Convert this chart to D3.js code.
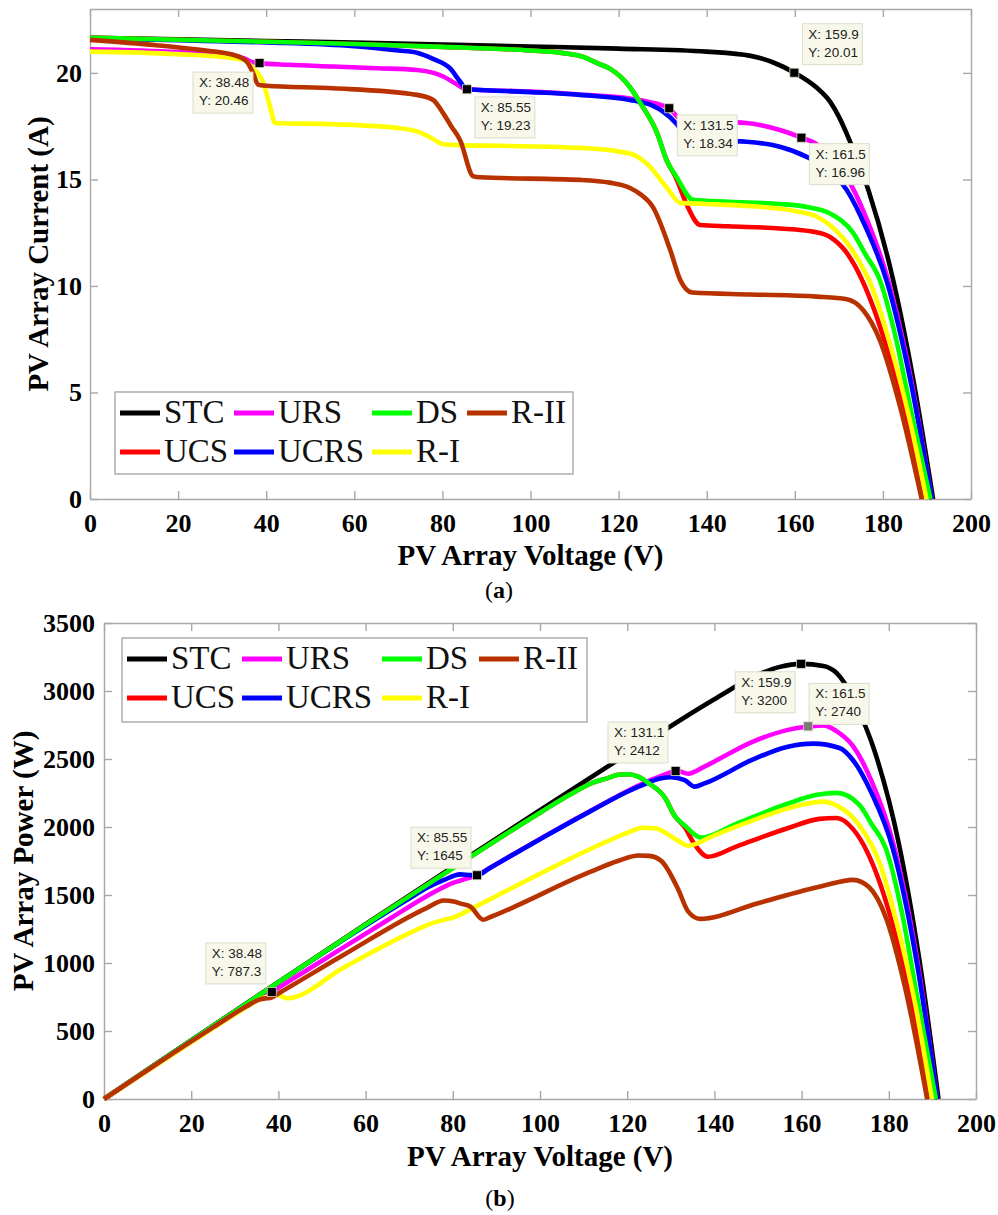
<!DOCTYPE html>
<html><head><meta charset="utf-8">
<script src="https://cdn.jsdelivr.net/npm/d3@7"></script>
<style>body{margin:0;background:#fff}</style>
</head><body>
<svg id="c" width="998" height="1215" xmlns="http://www.w3.org/2000/svg"></svg>
<script>
// ---------- DATA ----------
const seriesNames = ["STC","UCS","URS","UCRS","DS","R-I","R-II"];

const vSTC = [0,20,40,60,80,100,120,140,150,155,159.9,165,168,170,172.5,176.7,182.3,186.9,191.4];
const iSTC = [21.65,21.58,21.50,21.42,21.33,21.24,21.14,21.00,20.80,20.50,20.01,19.30,18.65,17.95,16.80,14.50,10.30,5.60,0];
const pSTC = [0,431.6,860,1285.2,1706.4,2124,2536.8,2940,3120,3177.5,3199.6,3184.5,3133.2,3051.5,2898,2562.2,1877.7,1046.6,0];

const vUCS = [0,20,40,60,80,100,107,112,115,118,120.3,122.5,124.9,128.7,130.9,133.2,135.5,138.5,145,156.6,164.1,168,171.8,175,178,182,185.5,189.3];
const iUCS = [21.65,21.56,21.46,21.36,21.22,21.05,20.94,20.75,20.47,20.2,19.85,19.35,18.6,17.2,15.9,15.0,13.8,12.86,12.8,12.7,12.55,12.3,11.55,10.4,8.9,6.3,3.6,0];
const pUCS = [0,431.2,858.4,1281.6,1697.6,2105,2240.6,2324,2354.1,2383.6,2388,2370.4,2323.1,2213.6,2081.3,1998,1869.9,1781.1,1856,1988.8,2059.5,2066.4,1984.3,1820,1584.2,1146.6,667.8,0];

const vURS = [0,20,32.5,35,37,38.48,45,55.2,65,74.2,78,80.2,83,85.55,88.5,100,111.2,122.6,126,128.7,131.5,134,137.8,149,156.6,161.5,165,168,171.8,176,181,186.5,191.1];
const iURS = [21.11,20.98,20.8,20.68,20.5,20.46,20.38,20.3,20.22,20.14,20.0,19.83,19.5,19.23,19.2,19.12,18.99,18.8,18.68,18.55,18.34,17.85,17.75,17.65,17.32,16.96,16.65,16.1,15.1,13.3,10.4,5.5,0];
const pURS = [0,419.6,676,723.8,758.5,787.3,917.1,1120.6,1314.3,1494.4,1560,1590.4,1618.5,1645.1,1699.2,1912,2111.7,2304.9,2353.7,2387.4,2411.7,2391.9,2446,2629.9,2712.3,2739,2747.3,2704.8,2594.2,2340.8,1882.4,1025.8,0];

const vUCRS = [0,20,40,60,70,74.2,78,81.7,84,85.55,88.5,100,111.2,122.6,127.8,130,133.2,135.5,137.7,149,156.6,162.7,168.7,171.8,176,180.9,186.5,191.1];
const iUCRS = [21.62,21.53,21.43,21.25,21.05,20.95,20.65,20.22,19.6,19.23,19.2,19.1,18.97,18.73,18.45,18.2,17.6,16.95,16.85,16.77,16.53,16.06,15.3,14.5,12.8,10.2,5.3,0];
const pUCRS = [0,430.6,857.2,1275,1473.5,1554.5,1610.7,1652,1646.4,1645.1,1699.2,1910,2109.5,2296.3,2357.9,2366,2344.3,2296.7,2320.2,2498.7,2588.6,2613,2581.1,2491.1,2252.8,1845.2,988.5,0];

const vDS = [0,20,40,60,80,100,107,112,115,118,120.3,122.5,124.9,128.7,130.9,133.2,136.9,145,156.6,163,168,173.2,176,179.3,183,186.2,190.8];
const iDS = [21.65,21.56,21.46,21.36,21.22,21.05,20.94,20.75,20.47,20.2,19.85,19.35,18.6,17.2,15.9,15.1,14.04,13.95,13.85,13.7,13.4,12.5,11.5,10.28,7.5,4.33,0];
const pDS = [0,431.2,858.4,1281.6,1697.6,2105,2240.6,2324,2354.1,2383.6,2388,2370.4,2323.1,2213.6,2081.3,2011.3,1922.1,2022.8,2168.9,2233.1,2251.2,2165,2024,1843.2,1372.5,806.2,0];

const vRI = [0,20,32.5,35,37,39.4,40.9,42,55.2,70.4,75,77.9,80.2,85,93,111.2,120.3,123.5,126.4,131,134,140,149,160.5,165,168,173.3,177.8,182,186,189.9];
const iRI = [21.0,20.88,20.69,20.6,20.22,19.5,18.4,17.65,17.59,17.4,17.2,16.9,16.65,16.6,16.58,16.48,16.3,16.15,15.75,14.6,13.9,13.85,13.76,13.5,13.25,12.85,11.6,9.8,7.0,3.8,0];
const pRI = [0,417.6,672.4,721,748.1,768.3,752.6,741.3,971,1225,1290,1316.5,1335.3,1411,1541.9,1832.6,1960.9,1994.5,1990.8,1912.6,1862.6,1939,2050.2,2166.8,2186.3,2158.8,2010.3,1742.4,1274,706.8,0];

const vRII = [0,15,25,32.5,35.6,37,38.2,40,55.2,74.2,77.9,80.2,82,84,87,88.5,111.2,118,122.6,125,127.8,131.7,134,136.7,150,165,171.8,175.5,179.3,183.9,188.8];
const iRII = [21.55,21.3,21.08,20.85,20.53,20.0,19.44,19.4,19.28,18.97,18.73,18.1,17.5,16.85,15.15,15.1,14.98,14.85,14.6,14.3,13.7,11.7,10.28,9.69,9.6,9.5,9.38,8.87,7.46,4.33,0];
const pRII = [0,319.5,527,677.6,730.9,740,742.6,776,1064.3,1407.6,1459.1,1451.6,1435,1415.4,1318.1,1336.4,1665.8,1752.3,1790,1787.5,1750.9,1540.9,1377.5,1324.6,1440,1567.5,1611.5,1556.7,1337.6,796.3,0];

const xTicks = [0,20,40,60,80,100,120,140,160,180,200];
const yTicksI = [0,5,10,15,20];
const yTicksP = [0,500,1000,1500,2000,2500,3000,3500];

// data tips (values)
const tipIVx = [38.48,85.55,131.5,159.9,161.5];
const tipIVy = [20.46,19.23,18.34,20.01,16.96];
const tipPVx = [38.48,85.55,131.1,159.9,161.5];
const tipPVy = [787.3,1645,2412,3200,2740];

// ---------- STYLE / LAYOUT ----------
const seriesColors = ["#000000","#ff0000","#ff00ff","#0000ff","#00ff00","#ffff00","#b83200"];
const tipIVoff = [[-66.5,9],[8,7.6],[8,6.6],[8,-49],[8,6]];
const tipPVoff = [[-66,-49],[-66,-48],[-67.6,-49],[-66,8],[1,-43]];
const tipMarkerFill = [["#000","#000","#000","#000","#000"],["#000","#000","#000","#000","#7a7a7a"]];

const seriesV = [vSTC,vUCS,vURS,vUCRS,vDS,vRI,vRII];
const seriesI = [iSTC,iUCS,iURS,iUCRS,iDS,iRI,iRII];
const seriesP = [pSTC,pUCS,pURS,pUCRS,pDS,pRI,pRII];

const SERIF = "'Liberation Serif','Times New Roman',Times,serif";
const SANS = "'Liberation Sans',Arial,Helvetica,sans-serif";
const svg = d3.select("#c");
svg.append("rect").attr("width",998).attr("height",1215).attr("fill","#fff");

function drawPanel(o){
  const x = d3.scaleLinear().domain([0,200]).range([o.left,o.right]);
  const y = d3.scaleLinear().domain([0,o.ymax]).range([o.bottom,o.top]);
  const g = svg.append("g");

  g.append("g").attr("transform",`translate(0,${o.bottom})`)
    .call(d3.axisBottom(x).tickValues(xTicks).tickFormat(d3.format("d"))
      .tickSizeInner(-8).tickSizeOuter(0).tickPadding(o.xpad));
  g.append("g").attr("transform",`translate(0,${o.top})`)
    .call(d3.axisTop(x).tickValues(xTicks).tickSizeInner(-8).tickSizeOuter(0).tickFormat(""));
  g.append("g").attr("transform",`translate(${o.left},0)`)
    .call(d3.axisLeft(y).tickValues(o.yTicks).tickFormat(d3.format("d"))
      .tickSizeInner(-8).tickSizeOuter(0).tickPadding(o.ypad));
  g.append("g").attr("transform",`translate(${o.right},0)`)
    .call(d3.axisRight(y).tickValues(o.yTicks).tickSizeInner(-8).tickSizeOuter(0).tickFormat(""));
  g.selectAll(".domain, .tick line").attr("stroke","#a8a8a8").attr("stroke-width",1.4);
  g.selectAll(".tick text").attr("font-family",SERIF).attr("font-weight","bold")
    .attr("font-size",26).attr("fill","#000");

  const line = d3.line().x(d=>x(d[0])).y(d=>y(d[1])).curve(d3.curveMonotoneX);
  seriesNames.forEach((n,k)=>{
    const pts = seriesV[k].map((v,j)=>[v,o.vals[k][j]]);
    g.append("path").datum(pts).attr("d",line).attr("fill","none")
      .attr("stroke",seriesColors[k]).attr("stroke-width",4.6)
      .attr("stroke-linejoin","round").attr("stroke-linecap","butt");
  });

  // axis titles
  g.append("text").attr("x",(o.left+o.right)/2).attr("y",o.xtitleY).attr("text-anchor","middle")
    .attr("font-family",SERIF).attr("font-weight","bold").attr("font-size",29).text("PV Array Voltage (V)");
  g.append("text").attr("transform",`translate(${o.ytitleX},${(o.top+o.bottom)/2}) rotate(-90)`)
    .attr("text-anchor","middle").attr("font-family",SERIF).attr("font-weight","bold")
    .attr("font-size",29).text(o.ytitle);

  // legend
  const L = o.legend;
  g.append("rect").attr("x",L.x).attr("y",L.y).attr("width",L.w).attr("height",L.h)
    .attr("fill","#fff").attr("stroke","#a8a8a8").attr("stroke-width",1.4);
  seriesNames.forEach((n,k)=>{
    const col = Math.floor(k/2), row = k%2;
    const lx = L.x + L.cols[col], ly = L.y + L.rows[row];
    g.append("line").attr("x1",lx).attr("x2",lx+40).attr("y1",ly).attr("y2",ly)
      .attr("stroke",seriesColors[k]).attr("stroke-width",5);
    g.append("text").attr("x",lx+44).attr("y",ly+10).attr("font-family",SERIF)
      .attr("font-size",33).attr("fill","#111").text(n);
  });

  // data tips
  o.tipx.forEach((tx,k)=>{
    const mx = x(tx), my = y(o.tipy[k]);
    const bx = mx + o.tipoff[k][0], by = my + o.tipoff[k][1];
    g.append("rect").attr("x",bx).attr("y",by).attr("width",60).attr("height",41)
      .attr("fill","#f8f8ea").attr("stroke","#dcdccc").attr("stroke-width",1);
    g.append("text").attr("x",bx+6).attr("y",by+15).attr("font-family",SANS)
      .attr("font-size",13.5).attr("fill","#222").text("X: "+tx);
    g.append("text").attr("x",bx+6).attr("y",by+33).attr("font-family",SANS)
      .attr("font-size",13.5).attr("fill","#222").text("Y: "+o.tipy[k]);
    g.append("rect").attr("x",mx-4.5).attr("y",my-4.5).attr("width",9).attr("height",9)
      .attr("fill",o.markerFill[k]).attr("stroke","#d8d8c0").attr("stroke-width",0.8);
  });

  // panel label
  const lab = g.append("text").attr("x",o.labX).attr("y",o.labY).attr("text-anchor","middle")
    .attr("font-family",SERIF).attr("font-size",24).attr("fill","#000");
  lab.append("tspan").text("(");
  lab.append("tspan").attr("font-weight","bold").text(o.lab);
  lab.append("tspan").text(")");
}

drawPanel({
  left:90,right:971,top:9,bottom:499,ymax:23,yTicks:yTicksI,xpad:15,ypad:8,
  vals:seriesI,xtitleY:565,ytitleX:48,ytitle:"PV Array Current (A)",
  legend:{x:115,y:392,w:458,h:82,cols:[5,119,257,352],rows:[21,60]},
  tipx:tipIVx,tipy:tipIVy,tipoff:tipIVoff,markerFill:tipMarkerFill[0],
  labX:499,labY:598,lab:"a"
});
drawPanel({
  left:104,right:976,top:623,bottom:1099,ymax:3500,yTicks:yTicksP,xpad:15,ypad:9,
  vals:seriesP,xtitleY:1166,ytitleX:33,ytitle:"PV Array Power (W)",
  legend:{x:122,y:638,w:465,h:84,cols:[5,120,260,357],rows:[21,60]},
  tipx:tipPVx,tipy:tipPVy,tipoff:tipPVoff,markerFill:tipMarkerFill[1],
  labX:500,labY:1206,lab:"b"
});
</script>
</body></html>
